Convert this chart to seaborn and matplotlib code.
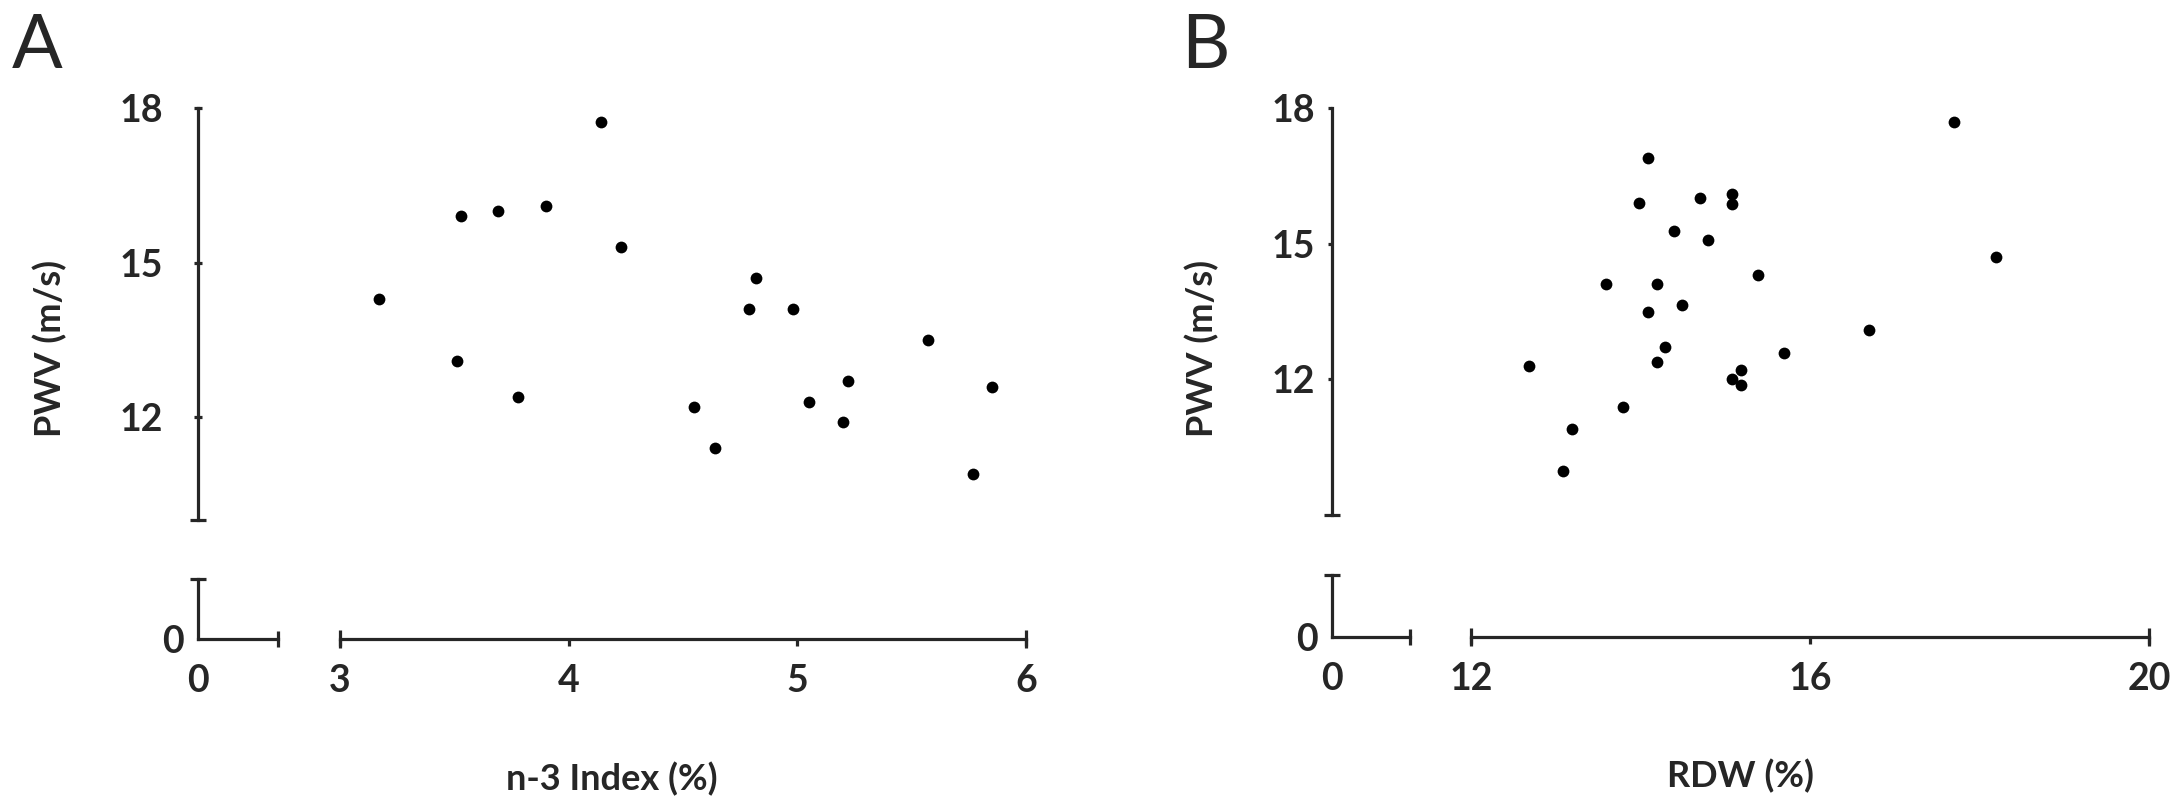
import numpy as np
import pandas as pd
import seaborn as sns
import matplotlib.pyplot as plt
from matplotlib.ticker import FixedLocator


# data

n3_index = [4.14, 3.53, 3.69, 3.90, 4.23, 4.82, 3.17, 4.79, 4.98, 5.57,
            3.51, 3.78, 5.22, 5.85, 4.55, 5.05, 5.20, 4.64, 5.77]
pwv_a = [17.72, 15.90, 16.00, 16.10, 15.31, 14.69, 14.30, 14.10, 14.10, 13.50,
         13.08, 12.38, 12.69, 12.59, 12.19, 12.29, 11.90, 11.39, 10.89]

rdw = [17.70, 14.09, 13.98, 14.70, 15.08, 15.08, 14.39, 14.80, 18.19, 15.39,
       13.59, 14.19, 14.49, 14.09, 16.69, 14.29, 15.69, 14.19, 12.68, 15.19,
       15.08, 15.19, 13.79, 13.19, 13.09]
pwv_b = [17.69, 16.90, 15.89, 16.00, 16.10, 15.88, 15.29, 15.09, 14.70, 14.30,
         14.11, 14.11, 13.64, 13.49, 13.10, 12.71, 12.59, 12.39, 12.30, 12.21,
         12.00, 11.87, 11.39, 10.90, 9.98]

y_ticks = [12, 15, 18]
x_ticks_a = [3, 4, 5, 6]
x_ticks_b = [12, 16, 20]

df_a = pd.DataFrame({'x': n3_index, 'y': pwv_a})
df_b = pd.DataFrame({'x': rdw, 'y': pwv_b})


# style

sns.set_theme(style="white")
plt.rcParams['font.family'] = ['Lato', 'DejaVu Sans']

LINE = '#262626'
LW = 2.3
TICK_FS = 27
LABEL_FS = 26

fig = plt.figure(figsize=(21.84, 8.09), dpi=100)


def main_axes(rect, df, xlim, ylim, xticks, ybottom, y_dir, y_len, y_pad,
              xlabel, ylabel_xy, xlabel_xy):
    ax = fig.add_axes(rect)
    sns.scatterplot(data=df, x='x', y='y', ax=ax, color='black',
                    s=72, linewidth=0, marker='o', legend=False)
    ax.set_xlim(*xlim)
    ax.set_ylim(*ylim)

    for side in ['top', 'right']:
        ax.spines[side].set_visible(False)
    for side in ['left', 'bottom']:
        ax.spines[side].set_color(LINE)
        ax.spines[side].set_linewidth(LW)
    ax.spines['left'].set_bounds(ybottom, y_ticks[-1])
    ax.spines['bottom'].set_bounds(xticks[0], xticks[-1])

    ax.set_yticks(y_ticks)
    ax.set_yticklabels([str(t) for t in y_ticks])
    ax.set_xticks(xticks)
    ax.set_xticklabels([str(t) for t in xticks])

    # end caps of the axis lines
    ax.yaxis.set_minor_locator(FixedLocator([ybottom]))
    ax.xaxis.set_minor_locator(FixedLocator([xticks[0], xticks[-1]]))
    ax.xaxis.remove_overlapping_locs = False
    ax.yaxis.remove_overlapping_locs = False

    ax.tick_params(axis='y', which='major', direction=y_dir, length=y_len,
                   width=LW, color=LINE, pad=y_pad, labelsize=TICK_FS,
                   left=True)
    ax.tick_params(axis='y', which='minor', direction='inout', length=12,
                   width=LW, color=LINE, left=True)
    ax.tick_params(axis='x', which='major', direction='out', length=5,
                   width=LW, color=LINE, pad=13, labelsize=TICK_FS,
                   bottom=True)
    ax.tick_params(axis='x', which='minor', direction='inout', length=13,
                   width=LW, color=LINE, bottom=True)
    for lab in ax.get_xticklabels() + ax.get_yticklabels():
        lab.set_fontweight('bold')

    ax.set_xlabel(xlabel, fontsize=LABEL_FS, fontweight='bold')
    ax.set_ylabel('PWV (m/s)', fontsize=LABEL_FS, fontweight='bold')
    ax.yaxis.set_label_coords(*ylabel_xy)
    ax.xaxis.set_label_coords(*xlabel_xy)
    ax.xaxis.label.set_va('center')
    ax.yaxis.label.set_va('center')
    ax.grid(False)
    return ax


def corner_axes(rect):
    ax = fig.add_axes(rect)
    ax.set_xlim(0, 1)
    ax.set_ylim(0, 1)
    ax.patch.set_alpha(0)
    for side in ['top', 'right']:
        ax.spines[side].set_visible(False)
    for side in ['left', 'bottom']:
        ax.spines[side].set_color(LINE)
        ax.spines[side].set_linewidth(LW)
    ax.set_xticks([0])
    ax.set_xticklabels(['0'])
    ax.set_yticks([0])
    ax.set_yticklabels(['0'])
    ax.xaxis.set_minor_locator(FixedLocator([1]))
    ax.yaxis.set_minor_locator(FixedLocator([1]))
    ax.tick_params(axis='x', which='major', length=0, pad=18,
                   labelsize=TICK_FS, bottom=True)
    ax.tick_params(axis='y', which='major', length=0, pad=10,
                   labelsize=TICK_FS, left=True)
    ax.tick_params(which='minor', direction='inout', length=12, width=LW,
                   color=LINE, bottom=True, left=True)
    for lab in ax.get_xticklabels() + ax.get_yticklabels():
        lab.set_fontweight('bold')
    ax.grid(False)
    return ax


# Panel A

main_axes([0.0907, 0.2101, 0.3791, 0.6564], df_a,
          xlim=(2.379, 6.0), ylim=(7.69, 18.0), xticks=x_ticks_a,
          ybottom=10, y_dir='inout', y_len=6, y_pad=22,
          xlabel='n-3 Index (%)', ylabel_xy=(-0.179, 0.548),
          xlabel_xy=(0.5, -0.264))
corner_axes([0.0907, 0.2101, 0.0366, 0.0742])

# Panel B

main_axes([0.6099, 0.2126, 0.3741, 0.6539], df_b,
          xlim=(10.36, 20.0), ylim=(6.30, 18.0), xticks=x_ticks_b,
          ybottom=9, y_dir='out', y_len=3, y_pad=9,
          xlabel='RDW (%)', ylabel_xy=(-0.159, 0.546),
          xlabel_xy=(0.5, -0.263))
corner_axes([0.6099, 0.2126, 0.0357, 0.0766])

fig.text(0.0055, 0.985, 'A', fontsize=54, va='top', ha='left')
fig.text(0.5410, 0.985, 'B', fontsize=54, va='top', ha='left')

plt.savefig('out.png', dpi=100)
